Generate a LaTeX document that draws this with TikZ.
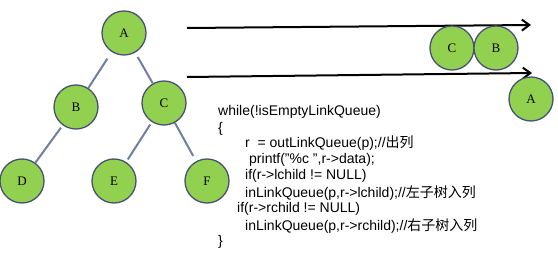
\documentclass[tikz,border=0pt]{standalone}
\usepackage{fontspec}
\setmainfont{Liberation Sans}
\newfontfamily\serifnode{Liberation Serif}
\newfontfamily\cjk{Noto Sans CJK SC}
\usetikzlibrary{arrows.meta}
\definecolor{nodegreen}{RGB}{146,208,80}
\definecolor{nodeborder}{RGB}{72,82,115}
\definecolor{edgeblue}{RGB}{112,126,165}
\tikzset{
  treenode/.style={circle, draw=nodeborder, fill=nodegreen, line width=1.3pt,
    minimum size=44pt, inner sep=0pt, font=\serifnode\fontsize{13}{13}\selectfont},
  treeedge/.style={draw=edgeblue, line width=2pt},
  queuearrow/.style={draw=black, line width=2pt, -{Straight Barb[length=7.5pt,width=11pt,line width=2pt]}},
  codeline/.style={anchor=base west, inner sep=0pt, font=\fontsize{14}{16}\selectfont}
}
\begin{document}
\begin{tikzpicture}[x=1pt,y=-1pt]
\useasboundingbox (0,0) rectangle (558,254);
% tree
\node[treenode] (A) at (124,33) {A};
\node[treenode] (B) at (76,107) {B};
\node[treenode] (C) at (164,103) {C};
\node[treenode] (D) at (22,181) {D};
\node[treenode] (E) at (114,181) {E};
\node[treenode] (F) at (207,181) {F};
\draw[treeedge, shorten <=8pt] (A) -- (B);
\draw[treeedge, shorten <=5pt] (A) -- (C);
\draw[treeedge, shorten <=3pt] (B) -- (D);
\draw[treeedge, shorten <=3pt, shorten >=3pt] (C) -- (E);
\draw[treeedge, shorten >=6pt] (C) -- (F);
% queue arrows
\coordinate (q1s) at (187,28);
\coordinate (q1e) at (531,25);
\coordinate (q2s) at (187,77);
\coordinate (q2e) at (532,73);
\draw[queuearrow] (q1s) -- (q1e);
\draw[queuearrow] (q2s) -- (q2e);
% queue nodes
\node[treenode] (Cq) at (452,48) {C};
\node[treenode] (Bq) at (496,48) {B};
\node[treenode] (Aq) at (531,99) {A};
% code
\node[codeline] (l1) at (218,116) {while(!isEmptyLinkQueue)};
\node[codeline] (l2) at (218,132) {\{};
\node[codeline] (l3) at (245,148) {r\ \ = outLinkQueue(p);//{\cjk 出列}};
\node[codeline] (l4) at (249,164) {printf("\%c ",r->data);};
\node[codeline] (l5) at (245,180) {if(r->lchild != NULL)};
\node[codeline] (l6) at (245,197) {inLinkQueue(p,r->lchild);//{\cjk 左子树入列}};
\node[codeline] (l7) at (237,213) {if(r->rchild != NULL)};
\node[codeline] (l8) at (245,230) {inLinkQueue(p,r->rchild);//{\cjk 右子树入列}};
\node[codeline] (l9) at (218,246) {\}};
\end{tikzpicture}
\end{document}
